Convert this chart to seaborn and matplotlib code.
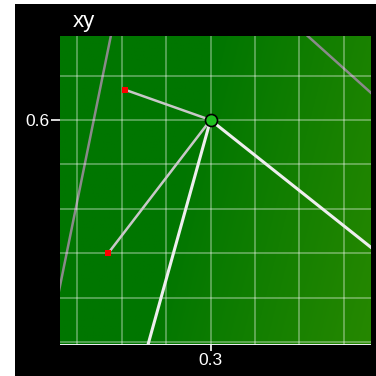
import numpy as np
import pandas as pd
import matplotlib
matplotlib.use("Agg")
import matplotlib.pyplot as plt
from matplotlib.patches import Rectangle
from matplotlib.ticker import FixedLocator, MultipleLocator
import seaborn as sns

# ---- data ----
center = (0.30, 0.60)
red_x = [0.204, 0.185]
red_y = [0.634, 0.450]
ray_end_x = [0.225, 0.500]
ray_end_y = [0.330, 0.441]
gray1_x = [0.124, 0.190]
gray1_y = [0.380, 0.705]
gray2_x = [0.400, 0.490]
gray2_y = [0.703, 0.622]
x_ticks = [0.3]
y_ticks = [0.6]
x_tick_labels = ["0.3"]
y_tick_labels = ["0.6"]
title = "xy"

xlim = (0.1307, 0.4802)
ylim = (0.3471, 0.6946)

sns.set_theme(style="dark")
plt.rcParams['font.family'] = ['Liberation Sans', 'DejaVu Sans']

fig = plt.figure(figsize=(3.76, 3.76), dpi=100, facecolor="white")
fig.patches.append(Rectangle((15/376, 0), 1, 1 - 4/376, transform=fig.transFigure,
                             facecolor="black", edgecolor="none", zorder=-10))
ax = fig.add_axes([60/376, 1 - 344.5/376, 310.7/376, 308.5/376])
ax.set_xlim(*xlim)
ax.set_ylim(*ylim)

# gradient background
nx, ny = 200, 200
xf = np.linspace(0, 1, nx)[None, :]
bottomness = np.linspace(0, 1, ny)[:, None]  # top row first
s = xf * 0.8 + bottomness * 0.2
t = np.clip((s - 0.4) / 0.6, 0, 1)
c0 = np.array([0, 118, 0]) / 255
c1 = np.array([38, 136, 0]) / 255
img = c0[None, None, :] + (c1 - c0)[None, None, :] * t[:, :, None]
ax.imshow(img, extent=(xlim[0], xlim[1], ylim[0], ylim[1]), aspect="auto",
          origin="upper", zorder=0)

# grid
ax.xaxis.set_major_locator(FixedLocator(x_ticks))
ax.yaxis.set_major_locator(FixedLocator(y_ticks))
ax.xaxis.set_minor_locator(MultipleLocator(0.05))
ax.yaxis.set_minor_locator(MultipleLocator(0.05))
ax.set_xticklabels(x_tick_labels)
ax.set_yticklabels(y_tick_labels)
ax.grid(True, which="both", color="white", alpha=0.35, linewidth=1.3, zorder=1)
ax.set_axisbelow(False)
for sp in ax.spines.values():
    sp.set_visible(False)
ax.tick_params(axis="both", which="minor", length=0)
ax.tick_params(axis="y", which="major", length=6.5, width=1.2, color="white",
               labelcolor="white", labelsize=12.5, pad=1, left=True)
ax.tick_params(axis="x", which="major", length=4, width=1.2, color="white",
               labelcolor="white", labelsize=12.5, pad=2, bottom=True)

# gray lines
for gx, gy in [(gray1_x, gray1_y), (gray2_x, gray2_y)]:
    sns.lineplot(x=gx, y=gy, sort=False, color="#8a8a8a", linewidth=1.8, ax=ax, zorder=2)

# rays to red points
for rx, ry in zip(red_x, red_y):
    sns.lineplot(x=[center[0], rx], y=[center[1], ry], sort=False, color="#c8c8c8",
                 linewidth=1.8, ax=ax, zorder=3)
# rays off-axes
for ex, ey in zip(ray_end_x, ray_end_y):
    sns.lineplot(x=[center[0], ex], y=[center[1], ey], sort=False, color="#eeeeee",
                 linewidth=2.2, ax=ax, zorder=3)

sns.scatterplot(x=red_x, y=red_y, marker="s", s=18, color="red", edgecolor="none",
                ax=ax, zorder=4)
sns.scatterplot(x=[center[0]], y=[center[1]], s=75, color="#20c020", edgecolor="black",
                linewidth=1.2, ax=ax, zorder=5)

ax.set_xlim(*xlim)
ax.set_ylim(*ylim)
ax.set_xlabel("")
ax.set_ylabel("")

fig.text(73/376, 1 - 27/376, title, color="white", fontsize=16, ha="left", va="baseline")

fig.savefig("out.png", dpi=100, facecolor=fig.get_facecolor())
